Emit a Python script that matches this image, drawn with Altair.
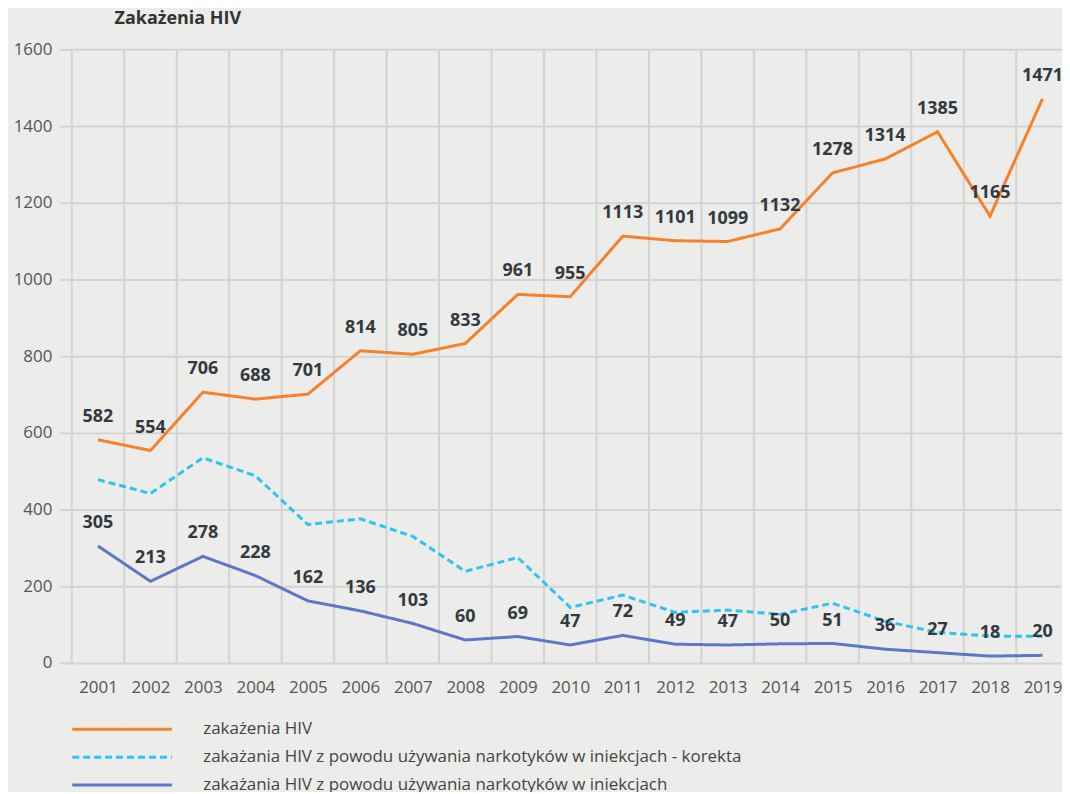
import altair as alt
import pandas as pd

years = list(range(2001, 2020))
series_names = [
    "zakażenia HIV",
    "zakażania HIV z powodu używania narkotyków w iniekcjach - korekta",
    "zakażania HIV z powodu używania narkotyków w iniekcjach",
]
hiv = [582, 554, 706, 688, 701, 814, 805, 833, 961, 955, 1113, 1101, 1099, 1132, 1278, 1314, 1385, 1165, 1471]
korekta = [478, 442, 535, 488, 361, 376, 330, 239, 275, 145, 177, 132, 138, 127, 156, 109, 80, 70, 70]
idu = [305, 213, 278, 228, 162, 136, 103, 60, 69, 47, 72, 49, 47, 50, 51, 36, 27, 18, 20]
y_ticks = [0, 200, 400, 600, 800, 1000, 1200, 1400, 1600]
colors = ["#f5822a", "#2ec4f2", "#5a78c6"]
dashes = [[1, 0], [7, 4], [1, 0]]

rows = []
for name, vals in zip(series_names, [hiv, korekta, idu]):
    for yr, v in zip(years, vals):
        rows.append({"year": yr, "value": v, "series": name})
df = pd.DataFrame(rows)
grid_df = pd.DataFrame({"year": [yr - 0.5 for yr in years] + [years[-1] + 0.5]})

FONT = "Open Sans"
GRID = "#d3d3d3"

x_scale = alt.Scale(domain=[2000.5, 2019.372], nice=False, zero=False)
y_scale = alt.Scale(domain=[0, 1600], nice=False)

x_axis = alt.Axis(
    values=years, format="d", title=None, grid=False, ticks=False, tickSize=0,
    domain=False, labelFontSize=17, labelColor="#555555", labelPadding=17, labelFont=FONT)
y_axis = alt.Axis(
    values=y_ticks, format="d", title=None, grid=True, gridColor=GRID, gridWidth=2,
    tickSize=12, tickColor=GRID, tickWidth=2, domain=False,
    labelFontSize=17, labelColor="#555555", labelPadding=8, labelFont=FONT)

legend = alt.Legend(
    title=None, orient="none", legendX=42, legendY=674,
    symbolType="M-10,0H10", symbolSize=100, symbolStrokeWidth=3,
    labelFontSize=17, labelColor="#444444", labelFont=FONT,
    labelOffset=73, rowPadding=10, direction="vertical", labelLimit=0,
)

vgrid = alt.Chart(grid_df).mark_rule(color=GRID, strokeWidth=2).encode(
    x=alt.X("year:Q", scale=x_scale, axis=x_axis)
)

lines = alt.Chart(df).mark_line(strokeWidth=3).encode(
    x=alt.X("year:Q", scale=x_scale, axis=x_axis),
    y=alt.Y("value:Q", scale=y_scale, axis=y_axis),
    color=alt.Color("series:N", scale=alt.Scale(domain=series_names, range=colors), legend=legend),
    strokeDash=alt.StrokeDash("series:N", scale=alt.Scale(domain=series_names, range=dashes), legend=legend),
)

labels = alt.Chart(df).transform_filter(
    alt.FieldOneOfPredicate(field="series", oneOf=[series_names[0], series_names[2]])
).mark_text(dy=-23, fontSize=18, fontWeight="bold", color="#34393f", font=FONT).encode(
    x=alt.X("year:Q", scale=x_scale, axis=x_axis),
    y=alt.Y("value:Q", scale=y_scale, axis=y_axis),
    text=alt.Text("value:Q"),
)

chart = alt.layer(vgrid, lines, labels).properties(
    width=994, height=616,
    autosize=alt.AutoSizeParams(type="none"),
    padding={"left": 64, "top": 40, "right": 0, "bottom": 128},
    background="#ececea",
    title=alt.TitleParams("Zakażenia HIV", anchor="start", frame="group", dx=43, dy=12, offset=10,
                          baseline="alphabetic", fontSize=18, fontWeight="bold",
                          font=FONT, color="#333333"),
).configure_view(stroke=None)

chart.save("out.html", embed_options={"renderer": "svg", "actions": False})
